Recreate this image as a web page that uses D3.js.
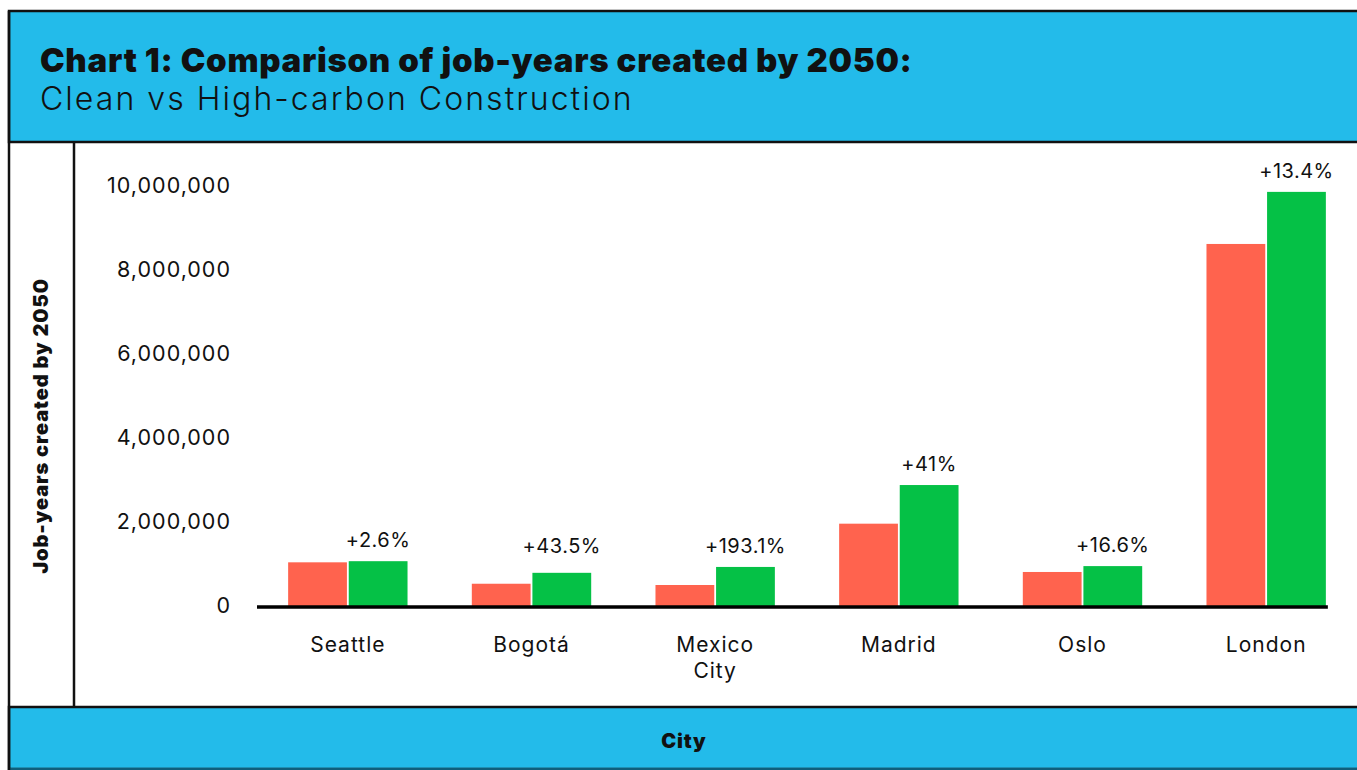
<!DOCTYPE html>
<html>
<head>
<meta charset="utf-8">
<script src="https://cdn.jsdelivr.net/npm/d3@7"></script>
<style>
  body { margin: 0; background: #fff; }
  text { font-family: Inter, "Open Sans", sans-serif; fill: #111; }
</style>
</head>
<body>
<svg class="chart1" width="1357" height="770"></svg>
<script>
// data
const cities = ['Seattle', 'Bogotá', 'Mexico City', 'Madrid', 'Oslo', 'London'];
const highCarbon = [1040000, 530000, 500000, 1960000, 810000, 8620000];
const clean = [1067000, 790000, 930000, 2880000, 950000, 9860000];
const changeLabels = ['+2.6%', '+43.5%', '+193.1%', '+41%', '+16.6%', '+13.4%'];
const yTicks = [0, 2000000, 4000000, 6000000, 8000000, 10000000];
const series = ['high', 'clean'];

const svg = d3.select('.chart1');
const width = +svg.attr('width');
const height = +svg.attr('height');
const blue = '#23bbea';
const colors = { high: '#ff634e', clean: '#05c146' };

const data = cities.map((c, i) => ({ city: c, high: highCarbon[i], clean: clean[i], label: changeLabels[i] }));

// frame: header, footer, borders
svg.append('rect')
    .attr('x', 9).attr('y', 11)
    .attr('width', width + 20).attr('height', 131)
    .attr('fill', blue)
    .attr('stroke', '#111').attr('stroke-width', 2.5);

svg.append('rect')
    .attr('x', 9).attr('y', 707)
    .attr('width', width + 20).attr('height', 62)
    .attr('fill', blue)
    .attr('stroke', '#111').attr('stroke-width', 2.5);

svg.append('line')
    .attr('x1', 9).attr('x2', width)
    .attr('y1', 769).attr('y2', 769)
    .attr('stroke', '#0f5f7c').attr('stroke-width', 2);

svg.append('line')
    .attr('x1', 9).attr('x2', 9)
    .attr('y1', 11).attr('y2', 770)
    .attr('stroke', '#111').attr('stroke-width', 2.5);

svg.append('line')
    .attr('x1', 74).attr('x2', 74)
    .attr('y1', 142).attr('y2', 707)
    .attr('stroke', '#111').attr('stroke-width', 2.5);

// titles
svg.append('text')
    .attr('x', 40).attr('y', 72)
    .style('font-size', '33px')
    .style('font-weight', 900)
    .style('letter-spacing', '0.7px')
    .text('Chart 1: Comparison of job-years created by 2050:');

svg.append('text')
    .attr('x', 40).attr('y', 110)
    .style('font-size', '32px')
    .style('font-weight', 300)
    .style('letter-spacing', '2.05px')
    .text('Clean vs High-carbon Construction');

svg.append('text')
    .attr('transform', 'translate(48, 426) rotate(-90)')
    .attr('text-anchor', 'middle')
    .style('font-size', '20px')
    .style('font-weight', 900)
    .style('letter-spacing', '0.9px')
    .text('Job-years created by 2050');

svg.append('text')
    .attr('x', 684).attr('y', 748)
    .attr('text-anchor', 'middle')
    .style('font-size', '20px')
    .style('font-weight', 900)
    .style('letter-spacing', '0.8px')
    .text('City');

// scales
const yScale = d3.scaleLinear()
    .domain([0, 10000000])
    .range([606, 186]);

const x0 = d3.scaleBand()
    .domain(cities)
    .range([256, 1358])
    .paddingInner(0.35)
    .paddingOuter(0.175);

const x1 = d3.scaleBand()
    .domain(series)
    .range([0, x0.bandwidth()])
    .paddingInner(0.03);

// y axis (labels only)
const yAxisG = svg.append('g')
    .attr('transform', 'translate(231, 0)')
    .call(d3.axisLeft(yScale).tickValues(yTicks).tickFormat(d3.format(',')).tickSize(0).tickPadding(0));
yAxisG.select('.domain').remove();
yAxisG.selectAll('.tick text')
    .style('font-size', '21.5px')
    .style('letter-spacing', '1px')
    .style('font-family', 'Inter, sans-serif')
    .attr('fill', '#111');

// bars
const groups = svg.append('g').selectAll('g')
    .data(data)
    .enter()
    .append('g')
    .attr('transform', d => `translate(${x0(d.city)}, 0)`);

groups.selectAll('rect')
    .data(d => series.map(k => ({ key: k, value: d[k] })))
    .enter()
    .append('rect')
    .attr('x', d => x1(d.key))
    .attr('y', d => yScale(d.value))
    .attr('width', x1.bandwidth())
    .attr('height', d => yScale(0) - yScale(d.value))
    .attr('fill', d => colors[d.key]);

groups.append('text')
    .attr('x', x1('clean') + x1.bandwidth() / 2)
    .attr('y', d => Math.min(yScale(d.clean) - 14, yScale(0) - 53))
    .attr('text-anchor', 'middle')
    .style('font-size', '20px')
    .style('letter-spacing', '0.5px')
    .text(d => d.label);

// baseline
const last = cities[cities.length - 1];
svg.append('line')
    .attr('x1', 257)
    .attr('x2', x0(last) + x0.bandwidth() + 2)
    .attr('y1', 607).attr('y2', 607)
    .attr('stroke', '#000').attr('stroke-width', 3.5);

// x axis (labels only)
const xAxisG = svg.append('g')
    .attr('transform', 'translate(0, 606)')
    .call(d3.axisBottom(x0).tickSize(0).tickPadding(31));
xAxisG.select('.domain').remove();
xAxisG.selectAll('.tick text')
    .style('font-size', '21px')
    .style('letter-spacing', '1px')
    .style('font-family', 'Inter, sans-serif')
    .attr('fill', '#111')
    .call(wrap, 110);

function wrap(texts, maxWidth) {
    texts.each(function () {
        const t = d3.select(this);
        const words = t.text().split(' ');
        if (words.length < 2 || this.getComputedTextLength() <= maxWidth) return;
        const y = t.attr('y');
        const dy = parseFloat(t.attr('dy'));
        t.text(null);
        words.forEach((w, i) => {
            t.append('tspan')
                .attr('x', 0)
                .attr('y', y)
                .attr('dy', (dy + i * 1.25) + 'em')
                .text(w);
        });
    });
}
</script>
</body>
</html>
